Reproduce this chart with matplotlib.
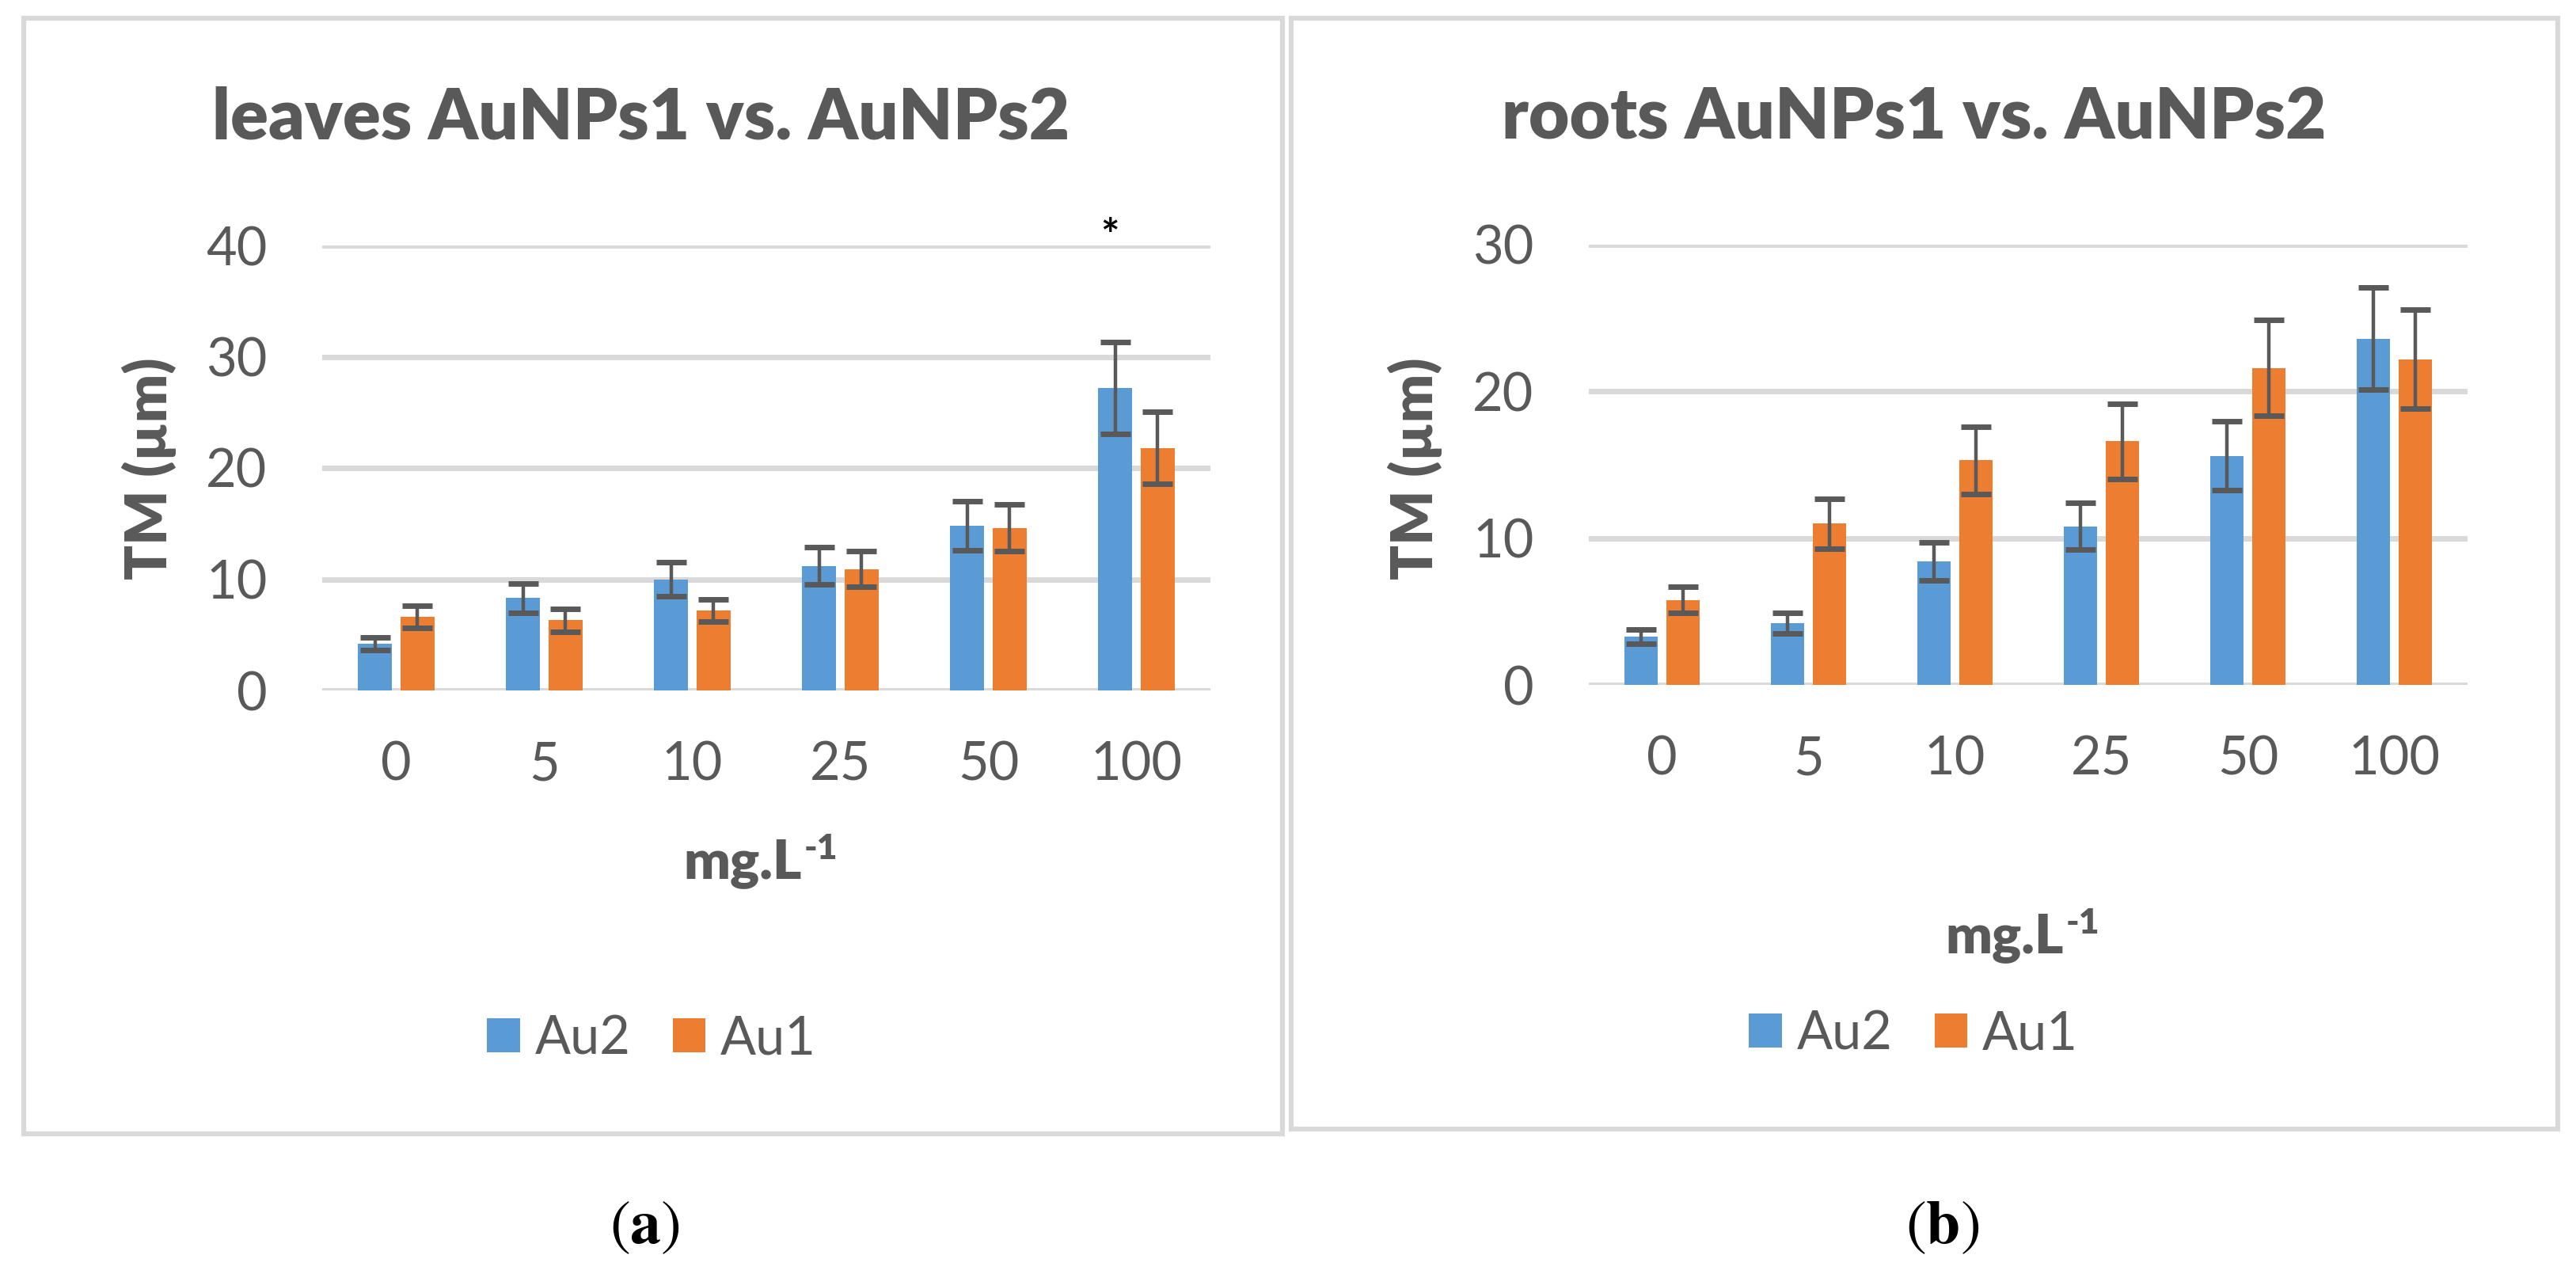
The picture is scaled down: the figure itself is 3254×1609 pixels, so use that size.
import numpy as np
import matplotlib
matplotlib.use('Agg')
import matplotlib.pyplot as plt
from matplotlib.patches import Rectangle

plt.rcParams['font.family'] = ['Lato', 'DejaVu Sans']
plt.rcParams['mathtext.fontset'] = 'stix'

#%% data
conc = ['0', '5', '10', '25', '50', '100']
leaves_au2 = [4.2, 8.3, 10.0, 11.2, 14.8, 27.2]
leaves_au2_err = [0.6, 1.3, 1.5, 1.65, 2.2, 4.15]
leaves_au1 = [6.6, 6.3, 7.2, 10.9, 14.6, 21.8]
leaves_au1_err = [1.0, 1.0, 1.0, 1.6, 2.1, 3.25]
roots_au2 = [3.3, 4.2, 8.4, 10.8, 15.6, 23.6]
roots_au2_err = [0.5, 0.7, 1.3, 1.6, 2.35, 3.5]
roots_au1 = [5.8, 11.0, 15.3, 16.6, 21.6, 22.2]
roots_au1_err = [0.9, 1.7, 2.3, 2.55, 3.25, 3.35]

blue = '#5B9BD5'
orange = '#ED7D31'
txt = '#595959'
grid = '#D9D9D9'

W, H = 3255, 1609
fig = plt.figure(figsize=(W/100, H/100), dpi=100)

def fx(px):
    return px / W

def fy(py):
    return 1 - py / H

# panel frames
for x0, y0, x1, y1 in [(30, 23, 1620, 1432), (1631, 23, 3231, 1426)]:
    fig.patches.append(Rectangle((fx(x0), fy(y1)), fx(x1) - fx(x0), fy(y0) - fy(y1),
                                 transform=fig.transFigure, fill=False,
                                 edgecolor=grid, linewidth=4.5, zorder=0))

def panel(box, ymax, au2, au2e, au1, au1e, title, tx, ylx, xly, legy):
    x0, y0, x1, y1 = box
    ax = fig.add_axes([fx(x0), fy(y1), fx(x1) - fx(x0), fy(y0) - fy(y1)])
    x = np.arange(len(conc))
    bw = 0.23
    off = 0.143
    ek = dict(ecolor=txt, elinewidth=3.2, capsize=13.5, capthick=5)
    ax.bar(x - off, au2, bw, color=blue, label='Au2', zorder=2)
    ax.bar(x + off, au1, bw, color=orange, label='Au1', zorder=2)
    ax.errorbar(x - off, au2, yerr=au2e, fmt='none', zorder=3, **ek)
    ax.errorbar(x + off, au1, yerr=au1e, fmt='none', zorder=3, **ek)
    for v in np.arange(0, ymax + 1, 10):
        ax.axhline(v, color=grid, linewidth=5, zorder=1)
    ax.set_xlim(-0.5, len(conc) - 0.5)
    ax.set_ylim(0, ymax)
    ax.set_xticks(x)
    ax.set_xticklabels(conc)
    ax.set_yticks(np.arange(0, ymax + 1, 10))
    ax.tick_params(length=0, labelsize=48, labelcolor=txt)
    ax.tick_params(axis='y', pad=50)
    ax.tick_params(axis='x', pad=46)
    for s in ax.spines.values():
        s.set_visible(False)
    fig.text(fx(tx), fy(149), title, ha='center', va='center', fontsize=64,
             fontweight='heavy', color=txt)
    fig.text(fx(ylx), fy(592), 'TM (µm)', ha='center', va='center', fontsize=52,
             fontweight='heavy', color=txt, rotation=90)
    # x label with a superscript "-1" hung off the main text
    t = fig.text(fx((x0 + x1) / 2 - 30), fy(xly), 'mg.L', ha='center',
                 va='center', fontsize=50, fontweight='heavy', color=txt)
    ax.annotate('-1', xy=(1.0, 0.78), xycoords=t, xytext=(2, 0), textcoords='offset points',
                ha='left', va='center', fontsize=32, fontweight='heavy', color=txt,
                annotation_clip=False)
    ax.legend(loc='center', bbox_to_anchor=(fx((x0 + x1) / 2 - 145), fy(legy)),
              bbox_transform=fig.transFigure, ncol=2, frameon=False, fontsize=48,
              handlelength=0.62, handleheight=0.62, handletextpad=0.28,
              columnspacing=0.8, labelcolor=txt)
    return ax

axl = panel((407, 310, 1529, 872), 40, leaves_au2, leaves_au2_err, leaves_au1,
            leaves_au1_err, 'leaves AuNPs1 vs. AuNPs2', 810, 188, 1090, 1312)
# significance mark over the 100 mg/L group
axl.text(4.82, 39.6, '*', ha='center', va='baseline', fontsize=40, color='black',
         fontweight='bold', clip_on=False)

axr = panel((2007, 309, 3117, 865), 30, roots_au2, roots_au2_err, roots_au1,
            roots_au1_err, 'roots AuNPs1 vs. AuNPs2', 2418, 1787, 1184, 1306)

fig.text(fx(814), fy(1551), r'$(\mathbf{a})$', ha='center', va='center', fontsize=56)
fig.text(fx(2454), fy(1551), r'$(\mathbf{b})$', ha='center', va='center', fontsize=56)

plt.savefig('out.png', dpi=100)
